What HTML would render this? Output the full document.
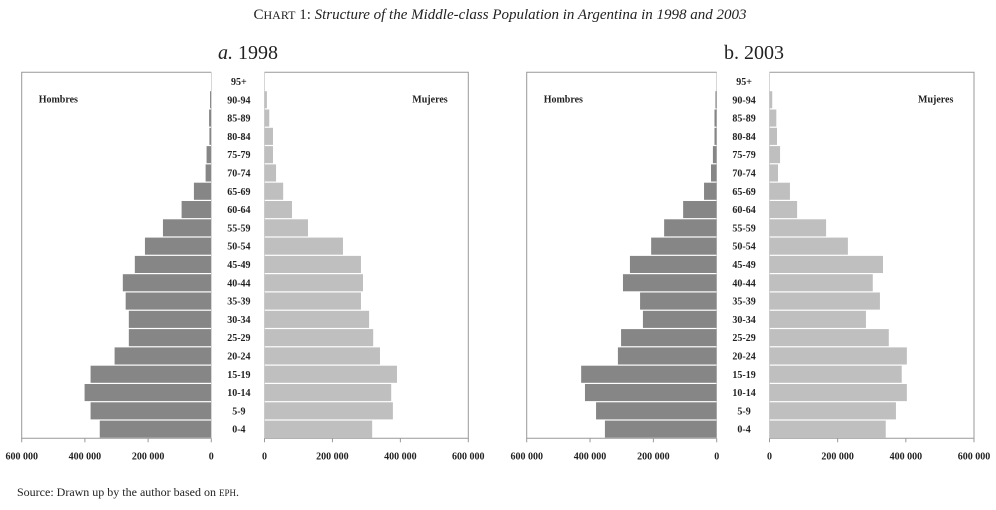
<!DOCTYPE html>
<html><head><meta charset="utf-8">
<style>
html,body{margin:0;padding:0;background:#fff;}
body{width:996px;height:505px;overflow:hidden;font-family:"Liberation Serif",serif;}
svg text{font-family:"Liberation Serif",serif;}
</style></head>
<body>
<svg id="chart" width="996" height="505" viewBox="0 0 996 505" xmlns="http://www.w3.org/2000/svg">
<text x="500" y="19" text-anchor="middle" font-size="15" fill="#222"><tspan>C</tspan><tspan font-size="12">HART</tspan> 1: <tspan font-style="italic">Structure of  the Middle-class Population in Argentina in 1998 and 2003</tspan></text>
<text x="248" y="59" text-anchor="middle" font-size="20" fill="#222"><tspan font-style="italic">a.</tspan> 1998</text>
<text x="754" y="59" text-anchor="middle" font-size="20" fill="#222">b. 2003</text>
<text x="17" y="496" font-size="12" fill="#222">Source: Drawn up by the author based on <tspan font-size="9">EPH</tspan>.</text>
<g id="panels"></g>
</svg>
<script>
const ageGroups = ["95+","90-94","85-89","80-84","75-79","70-74","65-69","60-64","55-59","50-54","45-49","40-44","35-39","30-34","25-29","20-24","15-19","10-14","5-9","0-4"];
const men1998 = [0,4000,7000,6000,15000,18000,55000,94000,153000,210000,242000,280000,271000,261000,261000,306000,382000,401000,382000,353000];
const women1998 = [0,7000,14000,25000,25000,34000,55000,81000,128000,231000,284000,290000,284000,308000,320000,340000,390000,373000,378000,317000];
const men2003 = [0,4000,7000,7000,12000,18000,40000,106000,166000,207000,274000,296000,242000,233000,302000,312000,428000,416000,381000,353000];
const women2003 = [0,8000,20000,22000,31000,25000,60000,81000,166000,230000,333000,303000,324000,283000,350000,403000,388000,403000,371000,341000];
const tickValues = [0,200000,400000,600000];
const tickLabels = ["0","200 000","400 000","600 000"];

const NS = "http://www.w3.org/2000/svg";
const root = document.getElementById("panels");
function mk(tag, attrs, parent){const e=document.createElementNS(NS,tag);for(const k in attrs)e.setAttribute(k,attrs[k]);parent.appendChild(e);return e;}

function drawPanel(id, men, women, lx0, lx1, rx0, rx1){
  const g = mk("g",{},root);
  
  
  const top=72.3, bottom=438.3, maxV=600000;
  const rowH=(bottom-top)/ageGroups.length;
  const xm = v => lx1 - v/maxV*(lx1-lx0);
  const xw = v => rx0 + v/maxV*(rx1-rx0);
  const yRow = i => top + i*rowH;
  // bars
  ageGroups.forEach((a,i)=>{
    if(men[i]>0){
      const r=mk("rect",{x:xm(men[i]),y:yRow(i)+0.6,width:lx1-xm(men[i]),height:rowH-1.2,fill:"#868686"},g);
      
      
    }
    if(women[i]>0){
      const r=mk("rect",{x:rx0,y:yRow(i)+0.6,width:xw(women[i])-rx0,height:rowH-1.2,fill:"#bfbfbf"},g);
      
      
    }
    const t=mk("text",{x:(lx1+rx0)/2+1,y:yRow(i)+rowH/2+3.5,"text-anchor":"middle","font-size":"10","font-weight":"bold",fill:"#222"},g);
    t.textContent=a;
    
    
  });
  // frames (left, top, right lines + axis)
  mk("path",{d:`M${lx1},${top} L${lx0},${top} L${lx0},${bottom} L${lx1},${bottom}`,fill:"none",stroke:"#999","stroke-width":"1"},g);
  mk("path",{d:`M${rx0},${top} L${rx1},${top} L${rx1},${bottom} L${rx0},${bottom}`,fill:"none",stroke:"#999","stroke-width":"1"},g);
  mk("line",{x1:lx1,y1:top,x2:lx1,y2:bottom,stroke:"#bbb","stroke-width":"0.6"},g);
  mk("line",{x1:rx0,y1:top,x2:rx0,y2:bottom,stroke:"#bbb","stroke-width":"0.6"},g);
  tickValues.forEach((v,k)=>{
    [[xm(v),"men"],[xw(v),"women"]].forEach(([x,s])=>{
      mk("line",{x1:x,y1:bottom,x2:x,y2:bottom+4,stroke:"#999","stroke-width":"1"},g);
      const t=mk("text",{x:x,y:bottom+21,"text-anchor":"middle","font-size":"10","font-weight":"bold",fill:"#222"},g);
      t.textContent=tickLabels[k];
      
      
    });
  });
  const h=mk("text",{x:lx0+17,y:top+30,"font-size":"10","font-weight":"bold",fill:"#222"},g);
  h.textContent="Hombres";
  
  
  const m=mk("text",{x:rx1-56,y:top+30,"font-size":"10","font-weight":"bold",fill:"#222"},g);
  m.textContent="Mujeres";
  
  
}
drawPanel("panel-1998", men1998, women1998, 21.7, 211.3, 264.5, 468.3);
drawPanel("panel-2003", men2003, women2003, 526.7, 716.7, 769.5, 974);
</script>
</body></html>
